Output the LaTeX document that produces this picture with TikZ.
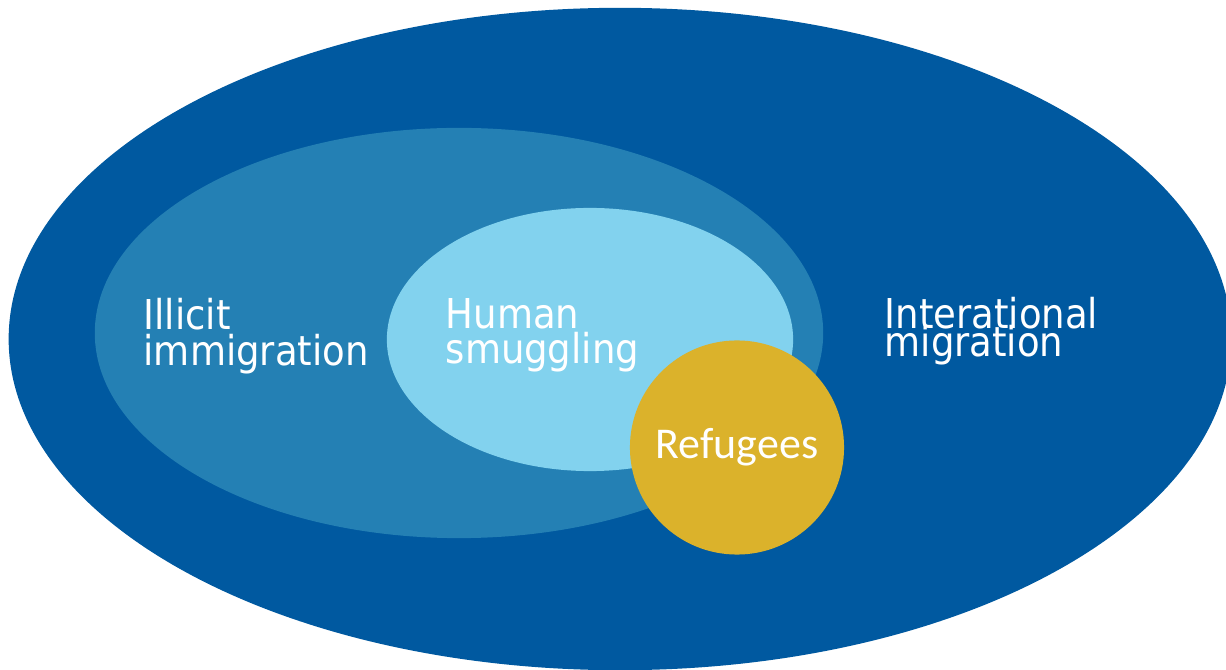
\documentclass[tikz,border=0pt]{standalone}
\usepackage{fontspec}
\setmainfont{DejaVu Sans Condensed}
\newfontfamily\reffont{Carlito}
\usetikzlibrary{shapes.geometric}
\definecolor{migblue}{RGB}{0,89,160}
\definecolor{illblue}{RGB}{36,128,180}
\definecolor{smulight}{RGB}{130,210,238}
\definecolor{refgold}{RGB}{219,178,43}
\newcommand\tightlines{\lineskiplimit=-100pt\relax}
\tikzset{
  setell/.style={ellipse, inner sep=0pt, draw=none},
  setlbl/.style={text=white, align=left, inner sep=0pt, anchor=north west,
                 font=\fontsize{11.7}{10}\selectfont\tightlines},
}
\begin{document}
\begin{tikzpicture}[x=0.01cm, y=-0.01cm]
    \useasboundingbox (0,0) rectangle (1226,670);
    \clip (0,0) rectangle (1226,670);
    % --- nested sets
    \node[setell, fill=migblue, minimum width=12.22cm, minimum height=6.62cm] (mig) at (620,339) {};
    \node[setell, fill=illblue, minimum width=7.28cm, minimum height=4.10cm] (ill) at (459,333) {};
    \node[setell, fill=smulight, minimum width=4.06cm, minimum height=2.63cm] (smu) at (590,339.5) {};
    \node[circle, inner sep=0pt, fill=refgold, minimum size=2.14cm] (ref) at (737,447.5) {};
    % --- labels
    \node[setlbl] (illlbl) at (143,298) {Illicit\\immigration};
    \node[setlbl] (smulbl) at (445,298) {Human\\smuggling};
    \node[setlbl, font=\fontsize{11.7}{7.7}\selectfont\tightlines] (miglbl) at (884,297) {Interational\\migration};
    \node[text=white, font=\reffont\fontsize{12.5}{14}\selectfont] (reflbl) at (ref) {Refugees};
\end{tikzpicture}
\end{document}
